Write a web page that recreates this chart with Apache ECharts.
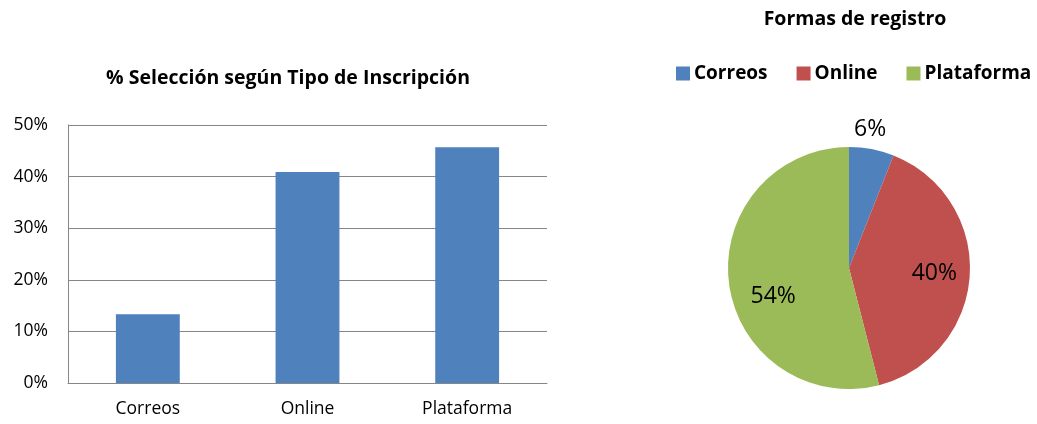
<!DOCTYPE html>
<html><head><meta charset="utf-8">
<script src="https://cdn.jsdelivr.net/npm/echarts@6/dist/echarts.min.js"></script>
<style>html,body{margin:0;padding:0;background:#fff}#c{width:1037px;height:424px}</style>
</head><body><div id="c"></div>
<script>
const categories = ['Correos', 'Online', 'Plataforma'];
const barValues = [13.3, 40.9, 45.7];
const pieNames = ['Correos', 'Online', 'Plataforma'];
const pieValues = [6, 40, 54];
const pieColors = ['#4F81BD', '#C0504D', '#9BBB59'];
const barTitle = '% Selección según Tipo de Inscripción';
const pieTitle = 'Formas de registro';

const FONT = 'Open Sans';
const chart = echarts.init(document.getElementById('c'));
const pieData = pieNames.map((n, i) => ({name: n, value: pieValues[i], itemStyle: {color: pieColors[i]}}));
const pctFmt = p => Math.round(p.percent) + '%';
const transparentData = (showIdx) => pieNames.map((n, i) => ({
  name: n, value: pieValues[i],
  itemStyle: {color: 'rgba(0,0,0,0)'},
  label: {show: showIdx.includes(i)}
}));
// small nudges to match label placement
const labelNudge = [{dx: -6, dy: 3}, {dx: 0, dy: 0}, {dx: 9, dy: 18}];

chart.setOption({
  animation: false,
  textStyle: {fontFamily: FONT},
  title: [
    {text: barTitle, left: 283, top: 63, textAlign: 'center',
     textStyle: {fontFamily: FONT, fontSize: 19.5, fontWeight: 'bold', color: '#000'}},
    {text: pieTitle, left: 850, top: 4, textAlign: 'center',
     textStyle: {fontFamily: FONT, fontSize: 19.5, fontWeight: 'bold', color: '#000'}}
  ],
  legend: {
    data: pieNames, left: 676, top: 64, width: 361, padding: 0,
    itemWidth: 14, itemHeight: 14, itemGap: 29,
    icon: 'rect',
    textStyle: {fontFamily: FONT, fontSize: 19, fontWeight: 'bold', color: '#000', padding: [0, 0, 0, -1]}
  },
  grid: {left: 68, right: 490, top: 125, bottom: 41, containLabel: false},
  xAxis: {
    type: 'category', data: categories,
    axisLine: {lineStyle: {color: '#868686', width: 1}},
    axisTick: {show: false},
    axisLabel: {fontFamily: FONT, fontSize: 17.5, color: '#000', margin: 17}
  },
  yAxis: {
    type: 'value', min: 0, max: 50, interval: 10,
    axisLine: {show: true, lineStyle: {color: '#868686'}},
    axisTick: {show: false},
    splitLine: {lineStyle: {color: '#868686', width: 1}},
    axisLabel: {formatter: '{value}%', fontFamily: FONT, fontSize: 17.5, color: '#000', margin: 20}
  },
  series: [
    {type: 'bar', data: barValues, barWidth: '40%', itemStyle: {color: '#4F81BD'}, silent: true},
    {type: 'pie', center: [849, 268], radius: [0, 121], startAngle: 90, clockwise: true,
     data: pieData, label: {show: false}, labelLine: {show: false}, silent: true,
     itemStyle: {borderColor: '#fff', borderWidth: 0}},
    {type: 'pie', center: [849, 268], radius: [0, 165], startAngle: 90, clockwise: true,
     data: transparentData([1, 2]), silent: true, labelLine: {show: false},
     labelLayout: p => labelNudge[p.dataIndex],
     label: {position: 'inside', formatter: pctFmt, fontFamily: FONT, fontSize: 23, color: '#000'}},
    {type: 'pie', center: [849, 268], radius: [121, 162], startAngle: 90, clockwise: true,
     data: transparentData([0]), silent: true, labelLine: {show: false},
     labelLayout: p => labelNudge[p.dataIndex],
     label: {position: 'inside', formatter: pctFmt, fontFamily: FONT, fontSize: 23, color: '#000'}}
  ]
});
</script></body></html>
